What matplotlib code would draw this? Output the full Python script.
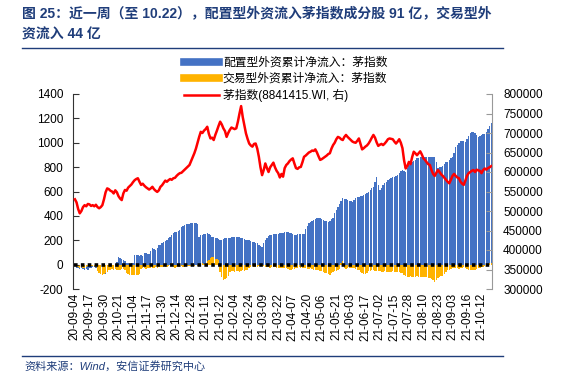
import matplotlib
matplotlib.use("Agg")
import matplotlib.pyplot as plt
from matplotlib.lines import Line2D
import numpy as np

plt.rcParams['font.family'] = ['Liberation Sans', 'Noto Sans CJK SC']
plt.rcParams['axes.unicode_minus'] = False

# tick labels (every 9th trading day)
tick_labels = ["20-09-04", "20-09-17", "20-09-30", "20-10-21", "20-11-04", "20-11-17",
               "20-11-30", "20-12-14", "20-12-28", "21-01-11", "21-01-22", "21-02-04",
               "21-02-24", "21-03-09", "21-03-22", "21-04-07", "21-04-20", "21-05-06",
               "21-05-21", "21-06-03", "21-06-17", "21-07-02", "21-07-15", "21-07-28",
               "21-08-10", "21-08-23", "21-09-03", "21-09-16", "21-10-12"]

# 配置型外资累计净流入 (亿元)
alloc_flow = [
    -15, -25, -30, -35, -30, -38, -40, -35, -42, -30,
    -25, -20, -22, -30, -55, -70, -80, -85, -80, -75,
    -45, -25, -15, -10, -5, 5, 20, 65, 55, 45,
    35, 30, 15, 10, 8, 12, 15, 79, 78, 75,
    72, 75, 70, 98, 95, 85, 90, 110, 134, 128,
    120, 135, 161, 165, 175, 188, 192, 200, 216, 225,
    240, 257, 265, 270, 278, 284, 311, 318, 325, 330,
    333, 336, 338, 339, 345, 343, 330, 229, 240, 245,
    250, 255, 257, 250, 240, 229, 225, 220, 216, 210,
    205, 202, 210, 215, 216, 218, 220, 225, 229, 229,
    226, 229, 229, 220, 216, 210, 205, 202, 198, 195,
    188, 185, 180, 175, 160, 150, 147, 175, 202, 220,
    235, 243, 246, 248, 250, 252, 255, 257, 257, 262,
    266, 270, 265, 260, 257, 250, 243, 245, 248, 250,
    248, 250, 250, 290, 320, 339, 350, 360, 366, 375,
    380, 385, 382, 375, 366, 360, 355, 352, 360, 372,
    380, 420, 450, 475, 500, 525, 544, 540, 535, 530,
    525, 520, 516, 530, 545, 552, 556, 560, 563, 570,
    578, 590, 600, 610, 626, 640, 680, 716, 650, 612,
    630, 650, 668, 680, 694, 700, 708, 715, 720, 728,
    735, 750, 765, 776, 768, 760, 790, 817, 830, 842,
    852, 860, 872, 876, 880, 885, 886, 884, 885, 887,
    885, 884, 882, 880, 840, 790, 800, 805, 810, 825,
    838, 845, 860, 872, 880, 920, 967, 985, 1000, 1016,
    1018, 1012, 1010, 1030, 1055, 1077, 1085, 1090, 1080, 1065,
    1050, 1055, 1062, 1068, 1070, 1085, 1110, 1135, 1164]

# 交易型外资累计净流入 (亿元)
trade_flow = [
    -10, -15, -20, -25, -22, -25, -28, -20, -15, -10,
    -8, -10, -12, -20, -55, -65, -75, -85, -80, -70,
    -60, -40, -42, -38, -40, -35, -45, -40, -45, -38,
    -35, -40, -70, -80, -85, -88, -85, -82, -86, -85,
    -80, -35, -30, -28, -32, -30, -25, -30, -28, -25,
    -22, -25, -20, -22, -18, -20, -22, -18, -15, -5,
    10, -20, -25, -22, -20, -18, -15, -20, -18, -15,
    -12, -10, -12, -8, -10, -5, -8, -5, 5, 10,
    5, 15, 30, 40, 55, 65, 60, 50, 45, 35,
    -60, -100, -126, -120, -110, -90, -60, -55, -50, -60,
    -55, -50, -58, -55, -48, -50, -45, -40, -25, -20,
    -15, -18, -22, -20, -10, -5, -8, -15, -20, -18,
    -22, -25, -20, -18, -22, -28, -30, -25, -30, -28,
    -25, -30, -35, -40, -44, -38, -32, -28, -25, -22,
    -28, -30, -25, -30, -35, -38, -30, -35, -40, -42,
    -45, -40, -50, -55, -60, -65, -70, -78, -85, -70,
    -60, -55, -50, -45, -35, 10, 30, -30, -35, -30,
    -28, -25, -30, -28, -35, -40, -45, -60, -70, -75,
    -80, -65, -55, -50, -45, -48, -50, -52, -50, -55,
    -58, -60, -55, -60, -62, -58, -60, -55, -60, -62,
    -58, -60, -65, -70, -85, -95, -100, -98, -95, -100,
    -102, -98, -95, -100, -105, -100, -98, -100, -105, -110,
    -112, -120, -130, -140, -125, -110, -100, -95, -90, -80,
    -60, -45, -40, -35, -30, -28, -25, -30, -35, -30,
    -25, -20, -28, -35, -40, -42, -44, -45, -40, -35,
    -30, -25, -20, -18, -15, -10, -5, 10, 15]

# 茅指数 (8841415.WI)
maotai = [
    530000, 522000, 505000, 494000, 500000, 510000, 515000, 512000, 518000, 517000,
    513000, 515000, 512000, 516000, 510000, 507000, 510000, 515000, 530000, 548000,
    558000, 556000, 552000, 550000, 545000, 553000, 548000, 538000, 532000, 528000,
    545000, 554000, 552000, 560000, 564000, 568000, 574000, 579000, 582000, 584000,
    575000, 567000, 570000, 565000, 561000, 558000, 555000, 558000, 562000, 556000,
    552000, 549000, 553000, 562000, 566000, 572000, 578000, 575000, 579000, 582000,
    580000, 584000, 585000, 590000, 594000, 597000, 598000, 602000, 606000, 610000,
    614000, 618000, 628000, 638000, 648000, 660000, 675000, 690000, 703000, 700000,
    706000, 710000, 716000, 698000, 686000, 688000, 682000, 695000, 706000, 718000,
    729000, 722000, 712000, 705000, 690000, 700000, 708000, 714000, 712000, 710000,
    712000, 729000, 750000, 769000, 741000, 720000, 699000, 685000, 673000, 668000,
    665000, 672000, 673000, 660000, 639000, 612000, 592000, 605000, 622000, 610000,
    600000, 612000, 618000, 624000, 612000, 603000, 597000, 586000, 595000, 588000,
    610000, 618000, 622000, 628000, 632000, 635000, 622000, 610000, 608000, 612000,
    613000, 625000, 639000, 642000, 646000, 650000, 652000, 655000, 654000, 658000,
    650000, 640000, 631000, 633000, 636000, 639000, 642000, 646000, 648000, 660000,
    669000, 675000, 684000, 690000, 688000, 684000, 682000, 690000, 695000, 690000,
    686000, 682000, 678000, 676000, 675000, 680000, 686000, 672000, 658000, 661000,
    665000, 668000, 673000, 680000, 688000, 695000, 688000, 676000, 667000, 670000,
    672000, 669000, 673000, 678000, 684000, 686000, 685000, 684000, 678000, 673000,
    678000, 684000, 675000, 661000, 630000, 609000, 615000, 626000, 620000, 638000,
    652000, 648000, 643000, 648000, 653000, 645000, 635000, 631000, 625000, 620000,
    618000, 605000, 595000, 590000, 598000, 605000, 600000, 594000, 590000, 585000,
    580000, 575000, 571000, 580000, 590000, 595000, 590000, 586000, 584000, 575000,
    570000, 567000, 578000, 590000, 597000, 600000, 603000, 605000, 600000, 606000,
    604000, 603000, 597000, 605000, 609000, 606000, 610000, 612000, 615000]

x = np.arange(len(maotai))
blue = "#4472C4"
gold = "#FFB300"
navy = "#1F3D7A"

fig = plt.figure(figsize=(5.81, 3.75), dpi=100)
ax = fig.add_axes([73/581, 1-289/375, (492-73)/581, (289-94)/375])
ax2 = ax.twinx()

ax.bar(x, alloc_flow, width=0.85, color=blue, linewidth=0)
ax.bar(x, trade_flow, width=0.85, color=gold, linewidth=0)
ax.plot([-0.5, len(x)-0.5], [0, 0], color="black", lw=2.6, linestyle=(0, (1, 0.9)))
ax2.plot(x, maotai, color="#FF0000", lw=1.8)

ax.set_xlim(-1.2, len(x)-0.5)
ax.set_ylim(-200, 1400)
ax.set_yticks(range(-200, 1401, 200))
ax2.set_ylim(300000, 800000)
ax2.set_yticks(range(300000, 800001, 50000))

ax.set_xticks(x[::9])
ax.set_xticklabels(tick_labels, rotation=90, fontsize=8.5)
ax.tick_params(axis='x', length=0, pad=3)
ax.tick_params(axis='y', direction='in', length=4, labelsize=8.5, pad=7, color="#333333")
ax2.tick_params(axis='y', direction='in', length=4, labelsize=8.5, pad=8, color="#999999")

for a in (ax, ax2):
    a.spines['top'].set_visible(False)
    a.spines['bottom'].set_visible(False)
ax.spines['left'].set_color("#333333")
ax.spines['right'].set_visible(False)
ax2.spines['left'].set_visible(False)
ax2.spines['right'].set_color("#999999")

handles = [Line2D([], [], color=blue, lw=5.5),
           Line2D([], [], color=gold, lw=5.5),
           Line2D([], [], color="#FF0000", lw=1.8)]
labels = ["配置型外资累计净流入：茅指数", "交易型外资累计净流入：茅指数", "茅指数(8841415.WI, 右)"]
fig.legend(handles, labels, loc="upper left", bbox_to_anchor=(178/581, 1-51/375),
           frameon=False, fontsize=8.5, handlelength=3.0, handletextpad=0.3,
           labelspacing=0.35, borderpad=0)

fig.text(22/581, 1-13/375, "图 25：近一周（至 10.22），配置型外资流入茅指数成分股 91 亿，交易型外",
         fontsize=10, fontweight='bold', color=navy, va='center', ha='left')
fig.text(22/581, 1-35/375, "资流入 44 亿", fontsize=10, fontweight='bold', color=navy,
         va='center', ha='left')
fig.add_artist(Line2D([22/581, 503/581], [1-48/375, 1-48/375], color=navy, lw=1))
fig.add_artist(Line2D([22/581, 503/581], [1-356/375, 1-356/375], color=navy, lw=1))
fig.text(24/581, 1-366/375, "资料来源：Wind，安信证券研究中心", fontsize=8, style='italic',
         color=navy, va='center', ha='left')

fig.savefig("out.png", dpi=100)
